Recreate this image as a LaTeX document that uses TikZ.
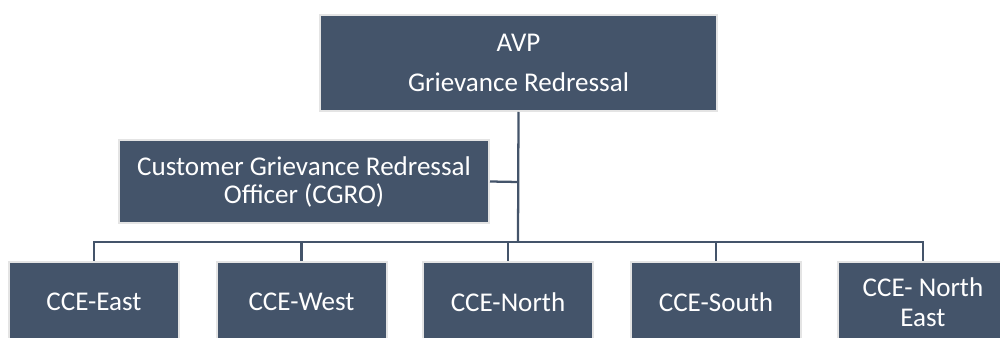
\documentclass[tikz,border=0pt]{standalone}
\usepackage{fontspec}
\setmainfont{Carlito}
\begin{document}
\begin{tikzpicture}[x=0.75pt,y=-0.75pt,
  box/.style={fill=boxc,draw=bordc,line width=1.5pt,inner sep=0pt,text=white,align=center,font=\fontsize{20.3pt}{22.5pt}\selectfont},
  link/.style={draw=boxc,line width=1.7pt}]
\definecolor{boxc}{HTML}{44546A}
\definecolor{bordc}{HTML}{E4E4E4}
\useasboundingbox (0,0) rectangle (1000,338);
\clip (0,0) rectangle (1000,338);
\node[box,minimum width=397*0.75pt,minimum height=96*0.75pt,font=\fontsize{20.3pt}{30pt}\selectfont] (avp) at (518.5,63) {AVP\\Grievance Redressal};
\node[box,minimum width=370*0.75pt,minimum height=83*0.75pt,font=\fontsize{20.3pt}{21pt}\selectfont] (cgro) at (304,181.5) {Customer Grievance Redressal\\Officer (CGRO)};
\node[box,minimum width=170*0.75pt,minimum height=80*0.75pt] (b1) at (94,302) {CCE-East};
\node[box,minimum width=170*0.75pt,minimum height=80*0.75pt] (b2) at (301.5,302) {CCE-West};
\node[box,minimum width=170*0.75pt,minimum height=80*0.75pt] (b3) at (508,302) {CCE-North};
\node[box,minimum width=170*0.75pt,minimum height=80*0.75pt] (b4) at (716,302) {CCE-South};
\node[box,minimum width=170*0.75pt,minimum height=80*0.75pt] (b5) at (923,302) {CCE- North\\East};
\coordinate (bus) at (518,242);
\coordinate (side) at (518,182);
\draw[link] (avp.south) -- (bus);
\draw[link] (cgro.east) -- (side);
\draw[link] (b1.north) |- (bus) -| (b5.north);
\draw[link] (b2.north) -- (b2.north |- bus);
\draw[link] (b3.north) -- (b3.north |- bus);
\draw[link] (b4.north) -- (b4.north |- bus);
\end{tikzpicture}
\end{document}
